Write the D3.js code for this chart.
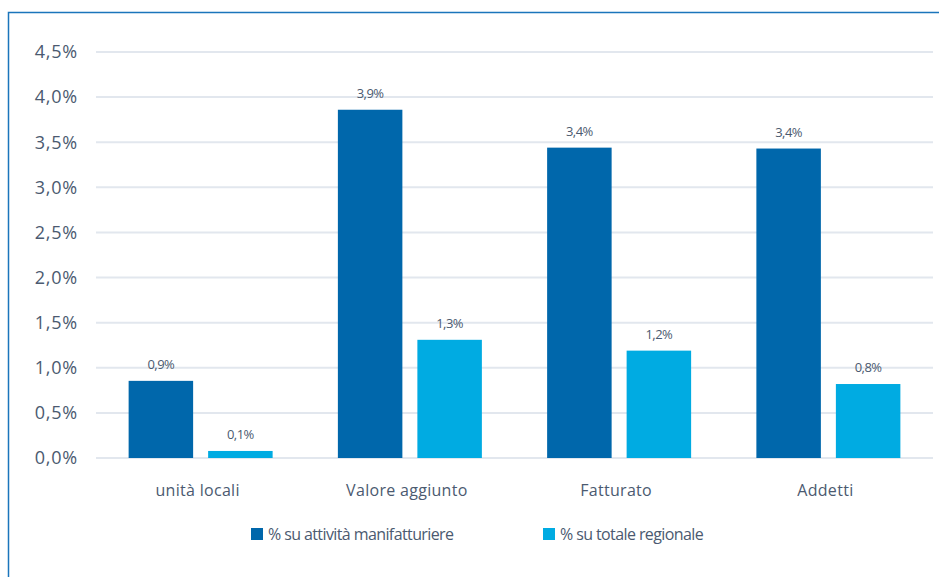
<!DOCTYPE html>
<html><head><meta charset="utf-8">
<script src="https://cdn.jsdelivr.net/npm/d3@7"></script>
<style>
html,body{margin:0;padding:0;background:#fff;}
svg{display:block;}
</style></head>
<body>
<svg id="chart" width="939" height="577"></svg>
<script>
const categories = ["unità locali", "Valore aggiunto", "Fatturato", "Addetti"];
const seriesNames = ["% su attività manifatturiere", "% su totale regionale"];
const manifatturiere = [0.855, 3.86, 3.44, 3.43];
const regionale = [0.078, 1.31, 1.19, 0.82];
const labelsManif = ["0,9%", "3,9%", "3,4%", "3,4%"];
const labelsReg = ["0,1%", "1,3%", "1,2%", "0,8%"];
const yTicks = [0, 0.5, 1, 1.5, 2, 2.5, 3, 3.5, 4, 4.5];
const colors = ["#0067ab", "#00abe2"];

const svg = d3.select("#chart");
const textColor = "#4b5a70";

// frame
svg.append("path").attr("d", "M8.5,600 V12.5 H950").attr("fill", "none")
  .attr("stroke", "#1b75bb").attr("stroke-width", 1.5);

const x0 = d3.scaleBand().domain(categories).range([96, 933]).paddingInner(0).paddingOuter(0);
const y = d3.scaleLinear().domain([0, 4.5]).range([458, 52]);

const fmt = v => v.toFixed(1).replace(".", ",") + "%";

// grid
svg.append("g").selectAll("line").data(yTicks).join("line")
  .attr("x1", 96).attr("x2", 933)
  .attr("y1", d => y(d)).attr("y2", d => y(d))
  .attr("stroke", "#e2e7ee").attr("stroke-width", 2);

// y labels
svg.append("g").selectAll("text").data(yTicks).join("text")
  .attr("x", 78).attr("y", d => y(d)).attr("dy", "0.35em")
  .attr("text-anchor", "end")
  .attr("font-family", "'Open Sans', sans-serif").attr("font-size", 18)
  .attr("letter-spacing", 0.8)
  .attr("fill", textColor).text(fmt);

const barW = 64.5, gap = 15;
const series = [manifatturiere, regionale];
const labels = [labelsManif, labelsReg];
series.forEach((vals, si) => {
  const g = svg.append("g");
  categories.forEach((c, i) => {
    const cx = x0(c) + x0.bandwidth() / 2;
    const bx = si === 0 ? cx - gap / 2 - barW : cx + gap / 2;
    g.append("rect").attr("x", bx).attr("width", barW)
      .attr("y", y(vals[i])).attr("height", y(0) - y(vals[i]))
      .attr("fill", colors[si]);
    g.append("text").attr("x", bx + barW / 2).attr("y", y(vals[i]) - 12)
      .attr("text-anchor", "middle")
      .attr("font-family", "'Open Sans', sans-serif").attr("font-size", 13)
      .attr("letter-spacing", -0.5)
      .attr("fill", textColor).text(labels[si][i]);
  });
});

// x labels
svg.append("g").selectAll("text").data(categories).join("text")
  .attr("x", d => x0(d) + x0.bandwidth() / 2 - 3).attr("y", 496)
  .attr("text-anchor", "middle")
  .attr("font-family", "'Open Sans', sans-serif").attr("font-size", 16)
  .attr("letter-spacing", 0.3)
  .attr("fill", textColor).text(d => d);

// legend
const legX = [251, 543];
seriesNames.forEach((n, i) => {
  svg.append("rect").attr("x", legX[i]).attr("y", 528).attr("width", 12).attr("height", 12)
    .attr("fill", colors[i]);
  svg.append("text").attr("x", legX[i] + 17).attr("y", 540)
    .attr("font-family", "'Liberation Sans Narrow', 'Open Sans', sans-serif").attr("font-size", 16)
    .attr("letter-spacing", -0.6)
    .attr("fill", textColor).text(n);
});
</script>
</body></html>
